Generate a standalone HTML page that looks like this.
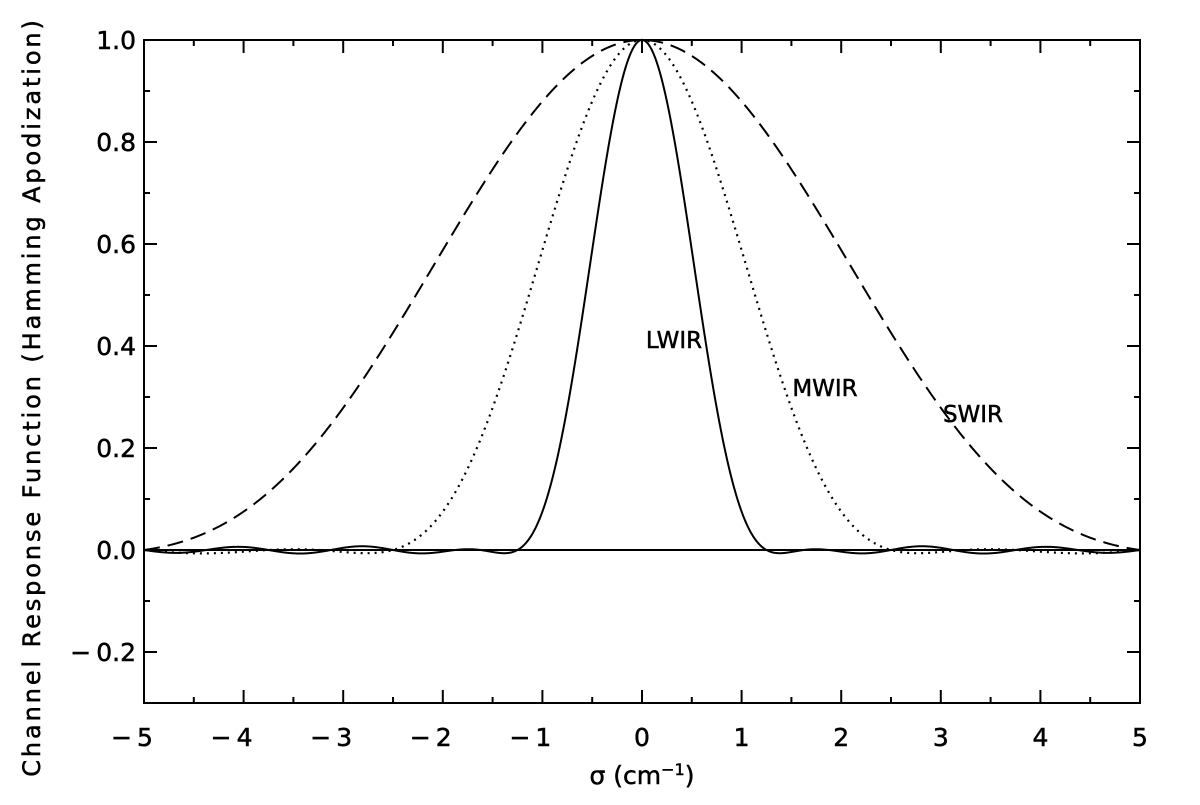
<!DOCTYPE html>
<html><head><meta charset="utf-8"><style>
html,body{margin:0;padding:0;background:#fff;}
svg text{font-family:"DejaVu Sans","Liberation Sans",sans-serif;fill:#000;stroke:#000;stroke-width:0.5;}
</style></head><body>
<svg id="s" width="1200" height="800" viewBox="0 0 1200 800" xmlns="http://www.w3.org/2000/svg">
<rect width="1200" height="800" fill="#fff"/>
<g id="ax" stroke="#000" stroke-width="2" fill="none"></g>
<g id="lab" font-size="25"></g>
<path id="lw" stroke="#000" stroke-width="2" fill="none"/>
<path id="mw" stroke="#000" stroke-width="2.2" fill="none" stroke-dasharray="2,5"/>
<path id="sw" stroke="#000" stroke-width="2" fill="none" stroke-dasharray="16,8"/>
<line x1="144" y1="550" x2="1140" y2="550" stroke="#000" stroke-width="2"/>
<text x="674" y="348" font-size="23" text-anchor="middle">LWIR</text>
<text x="825" y="396" font-size="23" text-anchor="middle">MWIR</text>
<text x="973" y="422" font-size="23" text-anchor="middle">SWIR</text>
<text x="642" y="784" font-size="25" text-anchor="middle">σ (cm<tspan dy="-9" font-size="16">−1</tspan><tspan dy="9">)</tspan></text>
<text transform="translate(40,397) rotate(-90)" font-size="24" text-anchor="middle" letter-spacing="2.9">Channel Response Function (Hamming Apodization)</text>
</svg>
<script>
var X0=144,X1=1140,Y0=40,Y1=703;
function px(x){return X0+(x+5)*(X1-X0)/10;}
function py(y){return 550-y*510;}
var ax=document.getElementById('ax'),lab=document.getElementById('lab'),h='',l='';
h+='<rect x="'+X0+'" y="'+Y0+'" width="'+(X1-X0)+'" height="'+(Y1-Y0)+'"/>';
for(var i=-5;i<=5;i++){var x=px(i);h+='<line x1="'+x+'" y1="'+Y1+'" x2="'+x+'" y2="'+(Y1-13)+'"/><line x1="'+x+'" y1="'+Y0+'" x2="'+x+'" y2="'+(Y0+13)+'"/>';
 l+='<text x="'+(i<0?x-12:x)+'" y="746" text-anchor="middle">'+(i<0?'−\u2009'+(-i):i)+'</text>';
 if(i<5){var m=px(i+0.5);h+='<line x1="'+m+'" y1="'+Y1+'" x2="'+m+'" y2="'+(Y1-6)+'"/><line x1="'+m+'" y1="'+Y0+'" x2="'+m+'" y2="'+(Y0+6)+'"/>';}}
for(var k=-3;k<=10;k++){var v=k/10,y=py(v);var L=(k%2==0)?13:6;
 h+='<line x1="'+X0+'" y1="'+y+'" x2="'+(X0+L)+'" y2="'+y+'"/><line x1="'+X1+'" y1="'+y+'" x2="'+(X1-L)+'" y2="'+y+'"/>';
 if(k%2==0){var t=(v<0?'−\u2009':'')+Math.abs(v).toFixed(1);l+='<text x="136" y="'+(y+9)+'" text-anchor="end">'+t+'</text>';}}
ax.innerHTML=h;lab.innerHTML=l;
function sinc(x){return Math.abs(x)<1e-9?1:Math.sin(Math.PI*x)/(Math.PI*x);}
function ils(s,L){var x=2*L*s;return (0.54*sinc(x)+0.23*(sinc(x-1)+sinc(x+1)))/0.54;}
function path(L){var d='';for(var i=0;i<=2000;i++){var s=-5+i*10/2000;d+=(i?'L':'M')+px(s).toFixed(2)+','+py(ils(s,L)).toFixed(2);}return d;}
document.getElementById('lw').setAttribute('d',path(0.8));
document.getElementById('mw').setAttribute('d',path(0.4));
document.getElementById('sw').setAttribute('d',path(0.2));
</script>
</body></html>
